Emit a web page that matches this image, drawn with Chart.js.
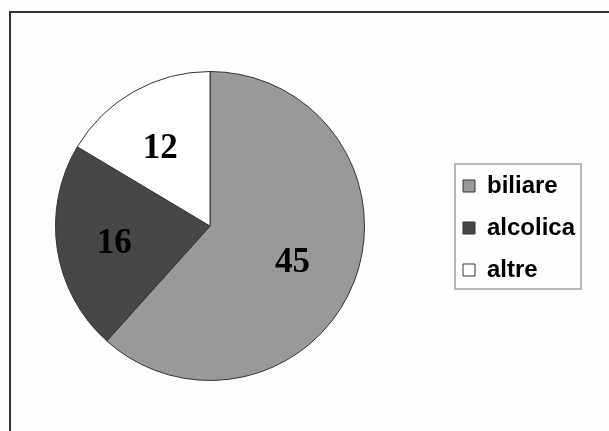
<!DOCTYPE html>
<html>
<head>
<meta charset="utf-8">
<script src="https://cdn.jsdelivr.net/npm/chart.js@4/dist/chart.umd.min.js"></script>
<style>
html, body { margin: 0; padding: 0; background: #fdfdfd; overflow: hidden; }
#wrap { position: relative; width: 609px; height: 431px; }
</style>
</head>
<body>
<div id="wrap"><canvas id="pie_chart" width="609" height="431"></canvas></div>
<script>
// data
var labels = ["biliare", "alcolica", "altre"];
var counts = [45, 16, 12];
var slice_colors = ["#999999", "#474747", "#ffffff"];

// outer frame of the picture
var framePlugin = {
	id: 'frame',
	beforeDraw: function(chart) {
		var ctx = chart.ctx;
		ctx.save();
		ctx.strokeStyle = "#333333";
		ctx.lineWidth = 2;
		ctx.strokeRect(10, 12, 800, 600);
		ctx.restore();
	}
};

// put the legend where the original has it
var legendPlacePlugin = {
	id: 'legendPlace',
	afterLayout: function(chart) {
		var lg = chart.legend;
		var w = lg.width;
		lg.left = 445;
		lg.right = 445 + w;
		lg.top = 156;
		lg.bottom = 156 + 260;
	},
	afterDraw: function(chart) {
		var boxes = chart.legend.legendHitBoxes;
		if (!boxes || !boxes.length) return;
		var l = Infinity, t = Infinity, r = -Infinity, b = -Infinity;
		boxes.forEach(function(h) {
			l = Math.min(l, h.left); t = Math.min(t, h.top);
			r = Math.max(r, h.left + h.width); b = Math.max(b, h.top + h.height);
		});
		var ctx = chart.ctx;
		ctx.save();
		ctx.strokeStyle = "#a0a0a0";
		ctx.lineWidth = 1.5;
		ctx.strokeRect(l - 8, t - 10, (r + 6) - (l - 8), (b + 7) - (t - 10));
		ctx.restore();
	}
};

// numbers inside the slices
var sliceLabelPlugin = {
	id: 'sliceLabels',
	afterDatasetsDraw: function(chart) {
		var ctx = chart.ctx;
		var meta = chart.getDatasetMeta(0);
		ctx.save();
		ctx.font = "bold 35px 'Liberation Serif', 'Times New Roman', serif";
		ctx.fillStyle = "#000";
		ctx.textAlign = "center";
		ctx.textBaseline = "middle";
		meta.data.forEach(function(arc, i) {
			var mid = (arc.startAngle + arc.endAngle) / 2;
			var rr = arc.outerRadius * 0.6;
			ctx.fillText(String(counts[i]), arc.x + Math.cos(mid) * rr - 4, arc.y + Math.sin(mid) * rr + 4);
		});
		ctx.restore();
	}
};

var pie_ctx = document.getElementById("pie_chart");
var pie_chart = new Chart(pie_ctx, {
	type: 'pie',
	data: {
		labels: labels,
		datasets: [{
			data: counts,
			backgroundColor: slice_colors,
			borderColor: "#333333",
			borderWidth: 1
		}]
	},
	options: {
		responsive: false,
		animation: false,
		layout: { padding: { left: 0, right: 189, top: 71, bottom: 50 } },
		plugins: {
			tooltip: { enabled: false },
			legend: {
				position: 'chartArea',
				align: 'start',
				labels: {
					boxWidth: 12,
					boxHeight: 12,
					padding: 18,
					color: "#000",
					font: { family: "'Liberation Sans', Arial, sans-serif", size: 24, weight: 'bold' }
				}
			}
		}
	},
	plugins: [framePlugin, legendPlacePlugin, sliceLabelPlugin]
});
</script>
</body>
</html>
